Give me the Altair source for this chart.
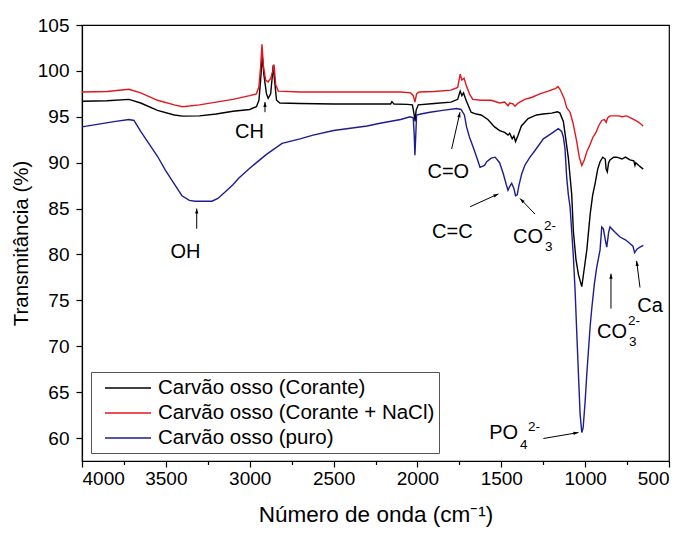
import altair as alt
import pandas as pd

# FTIR spectra of bone char samples: wavenumber (cm-1) and transmittance (%)
wn_corante = [4000, 3850, 3720, 3650, 3550, 3450, 3400, 3300, 3200, 3100, 3000, 2960, 2945, 2935,
              2925, 2915, 2900, 2890, 2875, 2865, 2860, 2852, 2840, 2820, 2700, 2500, 2300, 2160,
              2152, 2140, 2060, 2030, 2020, 2014, 2008, 1995, 1900, 1800, 1760, 1745, 1735, 1725,
              1710, 1680, 1650, 1620, 1580, 1540, 1510, 1480, 1460, 1450, 1435, 1425, 1415, 1400,
              1380, 1340, 1290, 1250, 1200, 1165, 1150, 1130, 1120, 1100, 1090, 1080, 1070, 1055,
              1040, 1020, 1005, 990, 970, 955, 941, 925, 911, 895, 880, 875, 868, 860, 852, 830,
              812, 780, 760, 733, 710, 703, 698, 680, 654]
t_corante = [96.7, 96.75, 96.9, 96.5, 95.7, 95.2, 95.07, 95.1, 95.3, 95.6, 95.8, 96.1, 96.8, 99.0,
             101.6, 99.5, 97.5, 97.0, 97.5, 99.5, 100.6, 99.0, 96.8, 96.5, 96.45, 96.4, 96.4, 96.4,
             96.65, 96.4, 96.35, 96.3, 95.3, 94.5, 95.7, 96.3, 96.45, 96.6, 96.9, 97.8, 97.3, 97.6,
             96.8, 95.5, 95.3, 95.2, 94.7, 93.9, 93.5, 93.3, 93.0, 93.2, 92.6, 92.9, 92.3, 93.0,
             94.0, 94.8, 95.2, 95.3, 95.4, 95.55, 95.4, 94.5, 93.2, 90.5, 88.5, 86.5, 82.5, 79.5,
             77.8, 76.5, 78.5, 80.5, 84.4, 86.5, 87.7, 89.3, 90.1, 90.6, 90.4, 89.3, 89.0, 90.0,
             90.3, 90.6, 90.6, 90.4, 90.6, 90.3, 90.2, 89.7, 90.0, 89.7, 89.3]

wn_nacl = [4000, 3850, 3720, 3650, 3550, 3450, 3400, 3300, 3200, 3100, 3000, 2960, 2945, 2935,
           2927, 2918, 2905, 2890, 2875, 2862, 2855, 2845, 2830, 2700, 2500, 2300, 2100, 2040,
           2025, 2015, 2005, 1990, 1900, 1800, 1760, 1745, 1735, 1722, 1710, 1690, 1670, 1620,
           1560, 1510, 1480, 1460, 1450, 1430, 1418, 1400, 1360, 1320, 1270, 1220, 1175, 1162,
           1150, 1125, 1110, 1090, 1072, 1050, 1035, 1020, 1005, 990, 970, 953, 935, 920, 901,
           885, 875, 865, 852, 800, 780, 753, 720, 700, 680, 654]
t_nacl = [97.7, 97.75, 98.0, 97.6, 96.8, 96.3, 96.1, 96.3, 96.6, 96.9, 97.3, 97.5, 98.3, 100.5,
          102.9, 100.5, 99.0, 98.8, 99.2, 100.0, 100.7, 98.5, 97.8, 97.7, 97.7, 97.7, 97.7, 97.6,
          97.3, 96.6, 97.5, 97.7, 97.75, 97.9, 98.2, 99.65, 99.0, 99.2, 98.5, 97.5, 96.9, 96.8,
          96.8, 96.5, 96.6, 96.2, 96.5, 96.4, 96.15, 96.5, 96.9, 97.1, 97.5, 97.8, 98.1, 98.3,
          98.0, 97.0, 96.0, 95.5, 94.3, 92.3, 90.6, 89.7, 90.3, 91.2, 92.0, 92.8, 93.3, 94.0, 94.6,
          94.7, 94.4, 94.9, 95.1, 95.1, 95.0, 95.1, 94.8, 94.6, 94.4, 94.0]

wn_puro = [4000, 3900, 3800, 3720, 3690, 3650, 3602, 3550, 3503, 3450, 3404, 3360, 3326, 3225,
           3190, 3147, 3100, 3066, 3000, 2967, 2900, 2807, 2700, 2622, 2500, 2422, 2300, 2223,
           2100, 2044, 2025, 2019, 2015, 2011, 2005, 1980, 1925, 1850, 1766, 1740, 1720, 1707,
           1690, 1668, 1645, 1627, 1600, 1587, 1560, 1537, 1510, 1488, 1470, 1460, 1450, 1438,
           1425, 1415, 1405, 1395, 1378, 1360, 1329, 1300, 1249, 1200, 1160, 1140, 1130, 1120,
           1110, 1100, 1090, 1080, 1070, 1060, 1050, 1040, 1030, 1020, 1012, 1000, 990, 970, 960,
           945, 931, 911, 901, 891, 880, 871, 860, 852, 820, 792, 760, 733, 715, 705, 698, 690,
           673, 653]
t_puro = [93.9, 94.2, 94.5, 94.7, 94.6, 93.4, 92.1, 90.7, 89.2, 87.7, 86.4, 85.9, 85.8, 85.8,
          86.1, 86.8, 87.6, 88.3, 89.4, 89.9, 90.9, 92.1, 92.6, 93.0, 93.5, 93.7, 94.0, 94.3,
          94.7, 95.0, 94.9, 93.0, 90.8, 92.5, 95.2, 95.3, 95.5, 95.7, 95.9, 95.8, 95.2, 93.9,
          92.8, 91.7, 90.5, 89.5, 89.7, 90.1, 90.5, 90.6, 90.0, 88.8, 87.6, 87.0, 87.4, 87.75,
          87.2, 86.4, 86.5, 87.5, 88.8, 89.7, 90.6, 91.3, 92.6, 93.2, 93.7, 93.4, 92.8, 91.5,
          88.4, 86.5, 85.2, 82.5, 79.7, 76.1, 71.5, 67.0, 62.6, 60.6, 61.1, 64.0, 67.0, 72.2, 74.2,
          76.8, 78.6, 80.5, 83.0, 82.8, 81.6, 80.8, 82.4, 83.0, 82.4, 81.9, 81.6, 81.2, 80.9,
          80.2, 80.4, 80.6, 80.8, 81.0]

series_names = ["Carvão osso (Corante)", "Carvão osso (Corante + NaCl)", "Carvão osso (puro)"]
series_colors = ["#000000", "#e3161d", "#1c1c93"]

# band labels without sub/superscripts
band_labels = ["CH", "OH", "C=O", "C=C", "Ca"]
band_x = [3001, 3383, 1816, 1792, 613]
band_y = [93.35, 80.3, 89.0, 82.43, 74.35]

# carbonate labels (CO with subscript 3 and superscript 2-)
co3_x = [1251, 750]
co3_y = [81.9, 71.55]

# phosphate label (PO with subscript 4 and superscript 2-)
po4_x = [1400]
po4_y = [60.6]

# arrows: tail -> tip
arrow_x1 = [2909, 3316, 1796, 1686, 1299, 1249, 846, 673]
arrow_y1 = [95.5, 82.8, 91.5, 85.2, 84.4, 59.95, 74.1, 76.4]
arrow_x2 = [2909, 3316, 1746, 1517, 1388, 1040, 846, 693]
arrow_y2 = [96.6, 85.0, 95.5, 86.6, 86.1, 60.6, 77.9, 79.3]

x_ticks = list(range(500, 4001, 250))
y_ticks = [60 + 2.5 * i for i in range(19)]

FONT = "Liberation Sans"

frames = []
for name, wn, t in [(series_names[0], wn_corante, t_corante),
                    (series_names[1], wn_nacl, t_nacl),
                    (series_names[2], wn_puro, t_puro)]:
    frames.append(pd.DataFrame({"wn": wn, "t": t, "amostra": name}))
spectra = pd.concat(frames, ignore_index=True)

bands = pd.DataFrame({"label": band_labels, "x": band_x, "y": band_y})
co3 = pd.DataFrame({"x": co3_x, "y": co3_y})
po4 = pd.DataFrame({"x": po4_x, "y": po4_y})
arrows = pd.DataFrame({"x1": arrow_x1, "y1": arrow_y1, "x2": arrow_x2, "y2": arrow_y2})

x_scale = alt.Scale(domain=[4000, 500], nice=False, zero=False)
y_scale = alt.Scale(domain=[57.5, 105], nice=False, zero=False)

x_axis = alt.Axis(
    title="Número de onda (cm⁻¹)", values=x_ticks, format="d",
    labelExpr="datum.value % 500 == 0 ? datum.label : ''",
    tickSize={"condition": {"test": "datum.value % 500 != 0", "value": 3.5}, "value": 6},
    labelOverlap=False, grid=False, labelPadding=2, titlePadding=15, titleFontSize=22.5,
)
y_axis = alt.Axis(
    title="Transmitância (%)", values=y_ticks, format="d",
    labelExpr="datum.value % 5 == 0 ? datum.label : ''",
    tickSize={"condition": {"test": "datum.value % 5 != 0", "value": 3.5}, "value": 6},
    labelOverlap=False, grid=False, labelPadding=7, titlePadding=6, titleFontSize=20.5,
)

lines = alt.Chart(spectra).mark_line(strokeWidth=1.4, clip=True).encode(
    x=alt.X("wn:Q", scale=x_scale, axis=x_axis),
    y=alt.Y("t:Q", scale=y_scale, axis=y_axis),
    color=alt.Color(
        "amostra:N",
        scale=alt.Scale(domain=series_names, range=series_colors),
        legend=alt.Legend(
            title=None, orient="none", legendX=9, legendY=347,
            symbolType="M-0.18,0H4", symbolSize=484, symbolStrokeWidth=1.3,
            labelFontSize=20.5, labelFont=FONT, labelColor="black", labelOffset=39,
            labelLimit=0, strokeColor="#555555", fillColor="white", padding=4,
            rowPadding=2,
        ),
    ),
    detail="amostra:N",
)

arrow_lines = alt.Chart(arrows).mark_rule(color="black", strokeWidth=1).encode(
    x="x1:Q", y="y1:Q", x2="x2:Q", y2="y2:Q"
)

head_angle = ("atan2(scale('y', datum.y2) - scale('y', datum.y1), "
              "scale('x', datum.x2) - scale('x', datum.x1)) * 180 / PI + 90")
arrow_heads = alt.Chart(arrows).mark_point(
    shape="M0,0L-0.4,1.2L0.4,1.2Z", filled=True, color="black", size=70, opacity=1,
    angle=alt.ExprRef(head_angle),
).encode(x="x2:Q", y="y2:Q")

band_text = alt.Chart(bands).mark_text(
    font=FONT, fontSize=20, color="black", align="center", baseline="middle"
).encode(x="x:Q", y="y:Q", text="label:N")


def ion_layers(df, main, sub, sup, sub_dx, sub_dy, sup_dx, sup_dy):
    base = alt.Chart(df)
    main_t = base.mark_text(
        font=FONT, fontSize=20, color="black", align="right", baseline="middle", text=main
    ).encode(x="x:Q", y="y:Q")
    sub_t = base.mark_text(
        font=FONT, fontSize=13.5, color="black", align="left", baseline="middle",
        dx=sub_dx, dy=sub_dy, text=sub
    ).encode(x="x:Q", y="y:Q")
    sup_t = base.mark_text(
        font=FONT, fontSize=13.5, color="black", align="left", baseline="middle",
        dx=sup_dx, dy=sup_dy, text=sup
    ).encode(x="x:Q", y="y:Q")
    return [main_t, sub_t, sup_t]


co3_text = ion_layers(co3, "CO", "3", "2-", 2, 10, 1, -11)
po4_text = ion_layers(po4, "PO", "4", "2-", 2, 12, 10, -6)

chart = alt.layer(
    lines, arrow_lines, arrow_heads, band_text, *co3_text, *po4_text
).properties(
    width=587, height=436,
    background="white",
    autosize=alt.AutoSizeParams(type="none"),
    padding={"left": 82, "top": 25, "right": 16, "bottom": 73},
).configure_view(
    stroke="black", strokeWidth=1.2
).configure_axis(
    domainColor="black", domainWidth=1.2, tickColor="black", tickWidth=1.2,
    labelFont=FONT, labelFontSize=19, labelColor="black",
    titleFont=FONT, titleColor="black", titleFontWeight="normal",
)

chart.save("out.html", embed_options={"renderer": "svg", "actions": False})
